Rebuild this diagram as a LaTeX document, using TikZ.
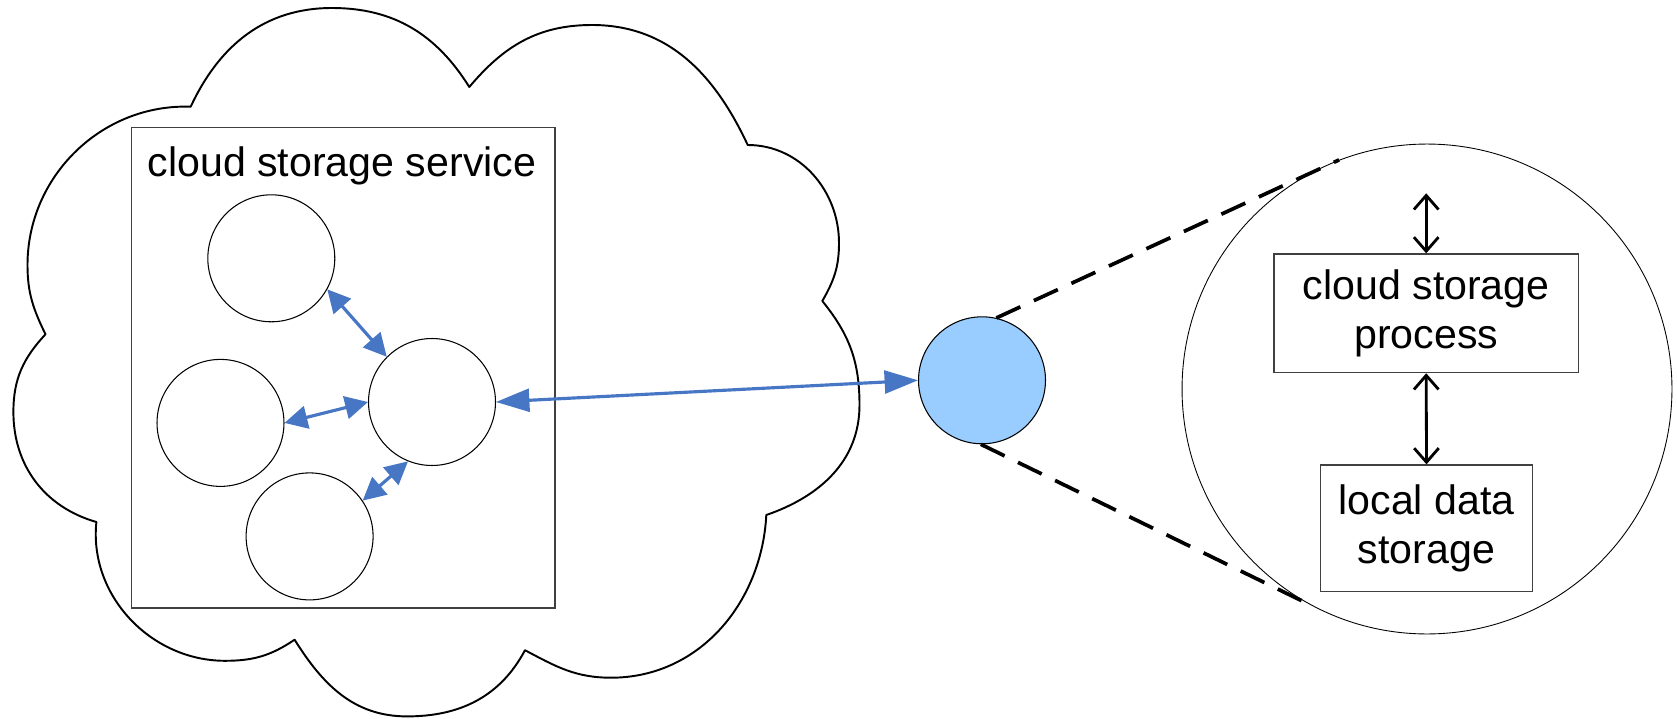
\documentclass[tikz,border=0pt]{standalone}
\usepackage{fontspec}
\setmainfont{Liberation Sans}
\usetikzlibrary{arrows.meta}
\definecolor{linkblue}{RGB}{70,118,196}
\definecolor{nodeblue}{RGB}{153,204,255}
\begin{document}
\begin{tikzpicture}[x=0.02cm,y=0.02cm,
  lbl/.style={font=\fontsize{23.4}{28}\selectfont, align=center},
  cloudline/.style={line width=1.1pt, line join=round},
  peer/.style={circle, draw, line width=0.6pt, minimum size=2.54cm, inner sep=0pt},
  boxframe/.style={draw=black!75, line width=0.7pt, inner sep=0pt},
  bluelink/.style={draw=linkblue, line width=1.8pt, {Triangle[length=13pt,width=13pt]}-{Triangle[length=13pt,width=13pt]}},
  longlink/.style={draw=linkblue, line width=1.8pt, {Triangle[length=19pt,width=13pt]}-{Triangle[length=19pt,width=13pt]}},
  blacklink/.style={line width=1.6pt, {Straight Barb[length=8pt,width=14pt]}-{Straight Barb[length=8pt,width=14pt]}},
  zoomline/.style={line width=2.1pt, dash pattern=on 15pt off 8.5pt}
]
\useasboundingbox (0,0) rectangle (1677,718);

% cloud outline
\coordinate (N1) at (190.7,611.3);
\coordinate (P1) at (332,710);
\coordinate (N2) at (469.3,631);
\coordinate (P2) at (592,693);
\coordinate (N3) at (747.7,573);
\coordinate (P3) at (839,475);
\coordinate (N4) at (822.3,417);
\coordinate (P4) at (859.5,313);
\coordinate (N5) at (766.3,203);
\coordinate (P5) at (611,40.3);
\coordinate (N6) at (525,67.8);
\coordinate (P6) at (407,1.6);
\coordinate (N7) at (294.6,78.3);
\coordinate (P7) at (225,57.2);
\coordinate (N8) at (96.4,196);
\coordinate (P8) at (13.4,306);
\coordinate (N9) at (45.5,383.7);
\coordinate (P9) at (27.5,453);
\draw[cloudline] (N1) to[out=65,in=180] (P1) to[out=0,in=122] (N2)
  to[out=50,in=180] (P2) to[out=0,in=115] (N3)
  to[out=0,in=90] (P3) to[out=-90,in=60] (N4)
  to[out=-51,in=90] (P4) to[out=-90,in=19] (N5)
  to[out=-93,in=0] (P5) to[out=180,in=-28] (N6)
  to[out=-118,in=0] (P6) to[out=180,in=-58] (N7)
  to[out=-146,in=0] (P7) to[out=180,in=-96] (N8)
  to[out=164,in=-90] (P8) to[out=90,in=227] (N9)
  to[out=116,in=-90] (P9) to[out=90,in=178] (N1) -- cycle;

% service box
\node[boxframe, minimum width=8.466cm, minimum height=9.61cm] (svc) at (343.4,350.2) {};
\node[lbl, anchor=base] (svctext) at (342,541.5) {cloud storage service};

\node[peer] (T) at (271.3,459.7) {};
\node[peer] (L) at (220.5,295.1) {};
\node[peer] (M) at (432,316) {};
\node[peer] (B) at (309.6,181.6) {};

\draw[bluelink] (T.-29) -- (M.135);
\draw[bluelink] (L.0) -- (M.180);
\draw[bluelink] (B.34) -- (M.248);

% client
\node[peer, fill=nodeblue] (K) at (982,337.7) {};
\draw[longlink] (M.0) -- (K.180);

% magnified view
\node[circle, draw, line width=0.5pt, minimum size=9.8cm, inner sep=0pt] (G) at (1427,329) {};
\draw[zoomline] (K.77) -- (G.111.6);
\draw[zoomline] (K.269) -- (G.242.6);

\node[boxframe, lbl, minimum width=6.086cm, minimum height=2.374cm] (proc) at (1426.2,404.7) {cloud storage\\process};
\node[boxframe, lbl, minimum width=4.232cm, minimum height=2.534cm] (local) at (1426.5,189.7) {local data\\storage};
\coordinate (ext) at (1426.2,524.7);
\draw[blacklink] (ext) -- (proc.north);
\draw[blacklink] (proc.south) -- (local.north);
\end{tikzpicture}
\end{document}
